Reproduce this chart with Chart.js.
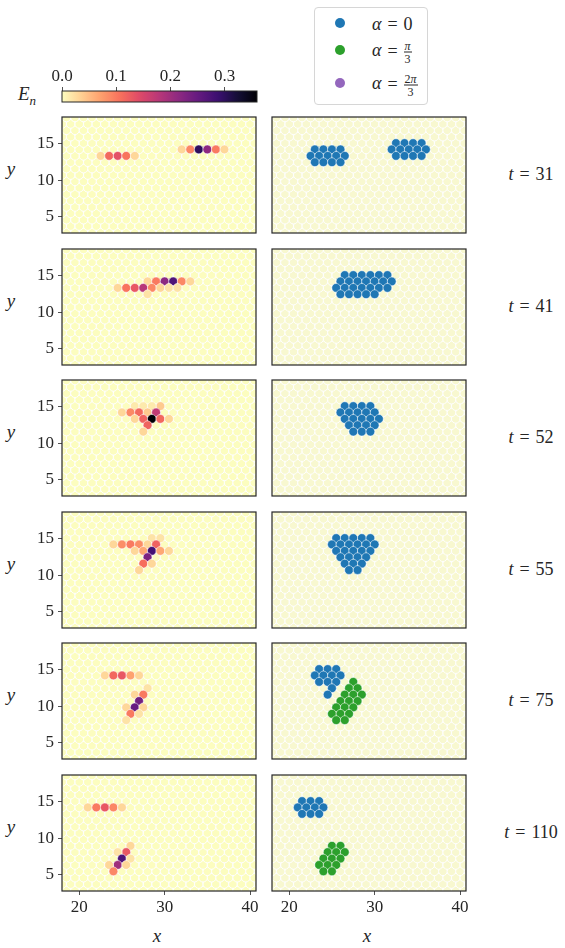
<!DOCTYPE html>
<html>
<head>
<meta charset="utf-8">
<script src="https://cdn.jsdelivr.net/npm/chart.js@4.4.0/dist/chart.umd.min.js"></script>
<style>
  body { margin: 0; width: 565px; height: 948px; position: relative; overflow: hidden; background: #fff;
         font-family: "Liberation Serif", "DejaVu Serif", serif; color: #262626; }
  canvas { position: absolute; }
  .lbl { position: absolute; font-size: 18px; white-space: nowrap; transform: translate(-50%, -50%); }
  .lbl i { font-style: italic; }
  .eq { margin: 0 6px; }
  #legend { position: absolute; left: 314px; top: 7px; width: 114px; height: 98px; border: 1px solid #d6d6d6;
            border-radius: 4px; background: #fff; box-sizing: border-box; }
  .leg-dot { position: absolute; width: 10px; height: 10px; border-radius: 50%; left: 20px; }
  .leg-txt { position: absolute; left: 57px; font-size: 18px; transform: translateY(-50%); white-space: nowrap; }
  .frac { display: inline-block; vertical-align: middle; text-align: center; font-size: 12px; line-height: 12px; }
  .frac span { display: block; }
  .frac .num { border-bottom: 1px solid #262626; padding: 0 1px; }
</style>
</head>
<body>
<div id="legend">
  <div class="leg-dot" style="top:10px;background:#1f77b4"></div>
  <div class="leg-txt" style="top:16px"><i>α</i><span class="eq">=</span>0</div>
  <div class="leg-dot" style="top:37px;background:#2ca02c"></div>
  <div class="leg-txt" style="top:44px"><i>α</i><span class="eq">=</span><span class="frac"><span class="num"><i>π</i></span><span>3</span></span></div>
  <div class="leg-dot" style="top:70px;background:#9467bd"></div>
  <div class="leg-txt" style="top:77px"><i>α</i><span class="eq">=</span><span class="frac"><span class="num">2<i>π</i></span><span>3</span></span></div>
</div>
<script>
// axis ranges and ticks
const xMin = 17.98, xMax = 40.7, yMin = 2.82, yMax = 18.55;
const xTicks = [20, 30, 40];
const yTicks = [5, 10, 15];
const cbarTicks = [0, 0.1, 0.2, 0.3];
const energyMax = 0.36;

// triangular lattice of sites (even rows sit on half-integer x)
const latticeRowY = [2.89, 3.76, 4.62, 5.49, 6.35, 7.22, 8.09, 8.95, 9.82, 10.68, 11.55,
  12.42, 13.28, 14.15, 15.01, 15.88, 16.75, 17.61, 18.48];
const latticeXInt = [18, 19, 20, 21, 22, 23, 24, 25, 26, 27, 28, 29, 30, 31, 32, 33, 34, 35, 36, 37, 38, 39, 40, 41];
const latticeXHalf = [17.5, 18.5, 19.5, 20.5, 21.5, 22.5, 23.5, 24.5, 25.5, 26.5, 27.5, 28.5, 29.5, 30.5,
  31.5, 32.5, 33.5, 34.5, 35.5, 36.5, 37.5, 38.5, 39.5, 40.5];

const times = [31, 41, 52, 55, 75, 110];

// energy per site: [x, row, E_n]
const energy31 = [[22.5,12,0.03],[23.5,12,0.115],[24.5,12,0.137],[25.5,12,0.105],[26.5,12,0.03],
  [32,13,0.03],[33,13,0.09],[34,13,0.30],[35,13,0.216],[36,13,0.1],[37,13,0.03]];
const energy41 = [[28,13,0.03],[29,13,0.1],[30,13,0.216],[31,13,0.27],[32,13,0.09],[33,13,0.03],
  [24.5,12,0.03],[25.5,12,0.105],[26.5,12,0.13],[27.5,12,0.18],[28.5,12,0.09],[29.5,12,0.03],
  [30.5,12,0.02],[31.5,12,0.02],[28,11,0.02]];
const energy52 = [[29.5,14,0.04],[26.5,14,0.015],[27.5,14,0.015],[28.5,14,0.015],
  [25,13,0.03],[26,13,0.09],[27,13,0.115],[28,13,0.04],[29,13,0.17],
  [26.5,12,0.03],[27.5,12,0.12],[28.5,12,0.36],[29.5,12,0.115],[30.5,12,0.03],
  [28,11,0.12],[27.5,10,0.03]];
const energy55 = [[28.5,14,0.02],[29.5,14,0.02],
  [24,13,0.03],[25,13,0.085],[26,13,0.1],[27,13,0.085],[28,13,0.03],[29,13,0.12],
  [26.5,12,0.03],[27.5,12,0.065],[28.5,12,0.28],[29.5,12,0.065],[30.5,12,0.03],
  [28,11,0.23],[27.5,10,0.11],[28.5,10,0.03],[27,9,0.03]];
const energy75 = [[23,13,0.03],[24,13,0.115],[25,13,0.13],[26,13,0.07],[27,13,0.03],
  [28,11,0.02],[26.5,10,0.03],[27.5,10,0.1],[27,9,0.24],
  [25.5,8,0.03],[26.5,8,0.25],[27.5,8,0.03],[26,7,0.1],[27,7,0.02],[25.5,6,0.02]];
const energy110 = [[21,13,0.03],[22,13,0.1],[23,13,0.13],[24,13,0.09],[25,13,0.03],
  [26,7,0.03],[25.5,6,0.13],[24.5,6,0.02],[25,5,0.27],[26,5,0.02],
  [24.5,4,0.2],[23.5,4,0.03],[25.5,4,0.03],[24,3,0.09]];
const energyByTime = [energy31, energy41, energy52, energy55, energy75, energy110];

// particle positions: [x, row]
const blue31 = [[23,13],[24,13],[25,13],[26,13],[22.5,12],[23.5,12],[24.5,12],[25.5,12],[26.5,12],
  [23,11],[24,11],[25,11],[26,11],
  [32.5,14],[33.5,14],[34.5,14],[35.5,14],[32,13],[33,13],[34,13],[35,13],[36,13],
  [32.5,12],[33.5,12],[34.5,12],[35.5,12]];
const blue41 = [[26.5,14],[27.5,14],[28.5,14],[29.5,14],[30.5,14],[31.5,14],
  [26,13],[27,13],[28,13],[29,13],[30,13],[31,13],[32,13],
  [25.5,12],[26.5,12],[27.5,12],[28.5,12],[29.5,12],[30.5,12],[31.5,12],
  [26,11],[27,11],[28,11],[29,11],[30,11]];
const blue52 = [[26.5,14],[27.5,14],[28.5,14],[29.5,14],
  [26,13],[27,13],[28,13],[29,13],[30,13],
  [26.5,12],[27.5,12],[28.5,12],[29.5,12],[30.5,12],
  [27,11],[28,11],[29,11],[30,11],
  [27.5,10],[28.5,10],[29.5,10]];
const blue55 = [[25.5,14],[26.5,14],[27.5,14],[28.5,14],[29.5,14],
  [25,13],[26,13],[27,13],[28,13],[29,13],[30,13],
  [25.5,12],[26.5,12],[27.5,12],[28.5,12],[29.5,12],
  [26,11],[27,11],[28,11],[29,11],
  [26.5,10],[27.5,10],[28.5,10],
  [27,9],[28,9]];
const blue75 = [[23.5,14],[24.5,14],[25.5,14],[23,13],[24,13],[25,13],[26,13],
  [23.5,12],[24.5,12],[25.5,12],[25,11],[24.5,10]];
const green75 = [[27.5,12],[27,11],[28,11],[26.5,10],[27.5,10],[28.5,10],
  [26,9],[27,9],[28,9],[25.5,8],[26.5,8],[27.5,8],[25,7],[26,7],[27,7],[25.5,6],[26.5,6]];
const blue110 = [[21.5,14],[22.5,14],[23.5,14],[21,13],[22,13],[23,13],[24,13],
  [21.5,12],[22.5,12],[23.5,12]];
const green110 = [[25,7],[26,7],[24.5,6],[25.5,6],[26.5,6],[24,5],[25,5],[26,5],
  [23.5,4],[24.5,4],[25.5,4],[24,3],[25,3]];
const blueByTime = [blue31, blue41, blue52, blue55, blue75, blue110];
const greenByTime = [[], [], [], [], green75, green110];

const alphaColors = ['#1f77b4', '#2ca02c', '#9467bd'];

// magma colormap, reversed for E_n
const magma = ['#000004','#140e36','#3b0f70','#641a80','#8c2981','#b73779','#de4968',
  '#f7705c','#fe9f6d','#fecf92','#fcfdbf'];
function hexRgb(h) { return [1, 3, 5].map((i) => parseInt(h.slice(i, i + 2), 16)); }
function energyColor(e) {
  const t = (1 - Math.min(e / energyMax, 1)) * 10;
  const i = Math.min(Math.floor(t), 9), f = t - i;
  const a = hexRgb(magma[i]), b = hexRgb(magma[i + 1]);
  const c = a.map((v, k) => Math.round(v + (b[k] - v) * f));
  return `rgb(${c[0]},${c[1]},${c[2]})`;
}

function latticePoints() {
  const pts = [];
  latticeRowY.forEach((y, r) => {
    (r % 2 === 0 ? latticeXHalf : latticeXInt).forEach((x) => pts.push({ x, y }));
  });
  return pts;
}
const toPoints = (list) => list.map((p) => ({ x: p[0], y: latticeRowY[p[1]] }));

// layout
const boxW = 194, boxH = 116;
const colLeft = [62, 272];
const rowTop = [117, 249, 380, 512, 643, 775];
const axisFont = { family: '"Liberation Serif", serif', size: 17 };
const inkColor = '#262626';

const framePlugin = {
  id: 'frame',
  beforeDatasetsDraw(chart) {
    const { ctx, chartArea: a } = chart;
    ctx.save();
    ctx.fillStyle = '#ffffff';
    ctx.fillRect(a.left, a.top, a.right - a.left, a.bottom - a.top);
    ctx.restore();
  },
  afterDraw(chart) {
    const { ctx, chartArea: a } = chart;
    ctx.save();
    ctx.strokeStyle = '#262626';
    ctx.lineWidth = 1.2;
    ctx.strokeRect(a.left, a.top, a.right - a.left, a.bottom - a.top);
    ctx.restore();
  },
};

function noPad(s) { s.paddingTop = 0; s.paddingBottom = 0; s.paddingLeft = 0; s.paddingRight = 0; }

function addCanvas(left, top, w, h) {
  const c = document.createElement('canvas');
  c.width = w; c.height = h;
  c.style.left = left + 'px'; c.style.top = top + 'px';
  c.style.width = w + 'px'; c.style.height = h + 'px';
  document.body.appendChild(c);
  return c;
}

function addLabel(html, x, y, size) {
  const d = document.createElement('div');
  d.className = 'lbl';
  d.innerHTML = html;
  d.style.left = x + 'px'; d.style.top = y + 'px';
  if (size) d.style.fontSize = size + 'px';
  document.body.appendChild(d);
}

function makePanel(row, col) {
  const showY = col === 0, showX = row === rowTop.length - 1;
  const yAxisW = showY ? 44 : 0;
  const xAxisH = showX ? 30 : 0;
  const padL = showY ? 0 : 2;
  const w = padL + yAxisW + boxW + 3;
  const h = 2 + boxH + (showX ? xAxisH : 2);
  const canvas = addCanvas(colLeft[col] - yAxisW - padL, rowTop[row] - 2, w, h);

  const datasets = [{
    data: latticePoints(),
    order: 5,
    pointRadius: 4.3,
    pointBackgroundColor: col === 0 ? energyColor(0) : '#f8f8d0',
    pointBorderColor: '#ffffff',
    pointBorderWidth: 1,
    clip: 0,
  }];
  if (col === 0) {
    const e = energyByTime[row];
    datasets.push({
      data: toPoints(e),
      order: 1,
      pointRadius: 4.4,
      pointBackgroundColor: e.map((p) => energyColor(p[2])),
      pointBorderColor: '#ffffff',
      pointBorderWidth: 0.5,
      clip: 0,
    });
  } else {
    [blueByTime[row], greenByTime[row]].forEach((list, k) => {
      datasets.push({
        data: toPoints(list),
        order: 1,
        pointRadius: 4.4,
        pointBackgroundColor: alphaColors[k],
        pointBorderColor: '#ffffff',
        pointBorderWidth: 0.5,
        clip: 0,
      });
    });
  }

  new Chart(canvas, {
    type: 'scatter',
    data: { datasets },
    options: {
      responsive: false,
      animation: false,
      events: [],
      layout: { autoPadding: false, padding: { top: 2, right: 3, left: padL, bottom: showX ? 0 : 2 } },
      plugins: { legend: { display: false }, tooltip: { enabled: false } },
      scales: {
        x: {
          type: 'linear', min: xMin, max: xMax, display: showX,
          afterBuildTicks: (s) => { s.ticks = xTicks.map((v) => ({ value: v })); },
          afterFit: (s) => { s.height = xAxisH; noPad(s); },
          grid: { drawOnChartArea: false, drawTicks: true, tickLength: 4, color: '#262626', lineWidth: 0.8 },
          border: { display: false },
          ticks: { font: axisFont, color: inkColor, padding: 2, maxRotation: 0 },
        },
        y: {
          type: 'linear', min: yMin, max: yMax, display: showY,
          afterBuildTicks: (s) => { s.ticks = yTicks.map((v) => ({ value: v })); },
          afterFit: (s) => { s.width = yAxisW; noPad(s); },
          grid: { drawOnChartArea: false, drawTicks: true, tickLength: 4, color: '#262626', lineWidth: 0.8 },
          border: { display: false },
          ticks: { font: axisFont, color: inkColor, padding: 4 },
        },
      },
    },
    plugins: [framePlugin],
  });
}

rowTop.forEach((top, row) => {
  makePanel(row, 0);
  makePanel(row, 1);
  addLabel('<i>y</i>', 11, top + 52, 19);
  addLabel(`<i>t</i><span class="eq">=</span>${times[row]}`, 531, top + 57);
});
addLabel('<i>x</i>', colLeft[0] + boxW / 2 - 2, 936, 19);
addLabel('<i>x</i>', colLeft[1] + boxW / 2 - 2, 936, 19);
addLabel('<i>E</i><sub style="font-size:13px"><i>n</i></sub>', 27, 96, 19);

// colorbar
const cbarCanvas = addCanvas(50, 60, 220, 45);
const gradientPlugin = {
  id: 'gradient',
  beforeDatasetsDraw(chart) {
    const { ctx, chartArea: a } = chart;
    const g = ctx.createLinearGradient(a.left, 0, a.right, 0);
    for (let i = 0; i <= 36; i++) g.addColorStop(i / 36, energyColor(energyMax * i / 36));
    ctx.save();
    ctx.fillStyle = g;
    ctx.fillRect(a.left, a.top, a.right - a.left, a.bottom - a.top);
    ctx.strokeStyle = '#262626';
    ctx.lineWidth = 1;
    ctx.strokeRect(a.left, a.top, a.right - a.left, a.bottom - a.top);
    ctx.restore();
  },
};
new Chart(cbarCanvas, {
  type: 'scatter',
  data: { datasets: [{ data: [] }] },
  options: {
    responsive: false,
    animation: false,
    events: [],
    layout: { autoPadding: false, padding: { top: 0, right: 13, left: 12, bottom: 3 } },
    plugins: { legend: { display: false }, tooltip: { enabled: false } },
    scales: {
      x: {
        type: 'linear', position: 'top', min: 0, max: energyMax,
        afterBuildTicks: (s) => { s.ticks = cbarTicks.map((v) => ({ value: v })); },
        afterFit: (s) => { s.height = 31; noPad(s); },
        grid: { drawOnChartArea: false, drawTicks: true, tickLength: 4, color: '#262626', lineWidth: 0.8 },
        border: { display: false },
        ticks: { font: axisFont, color: inkColor, padding: 0, maxRotation: 0, callback: (v) => v.toFixed(1) },
      },
      y: { display: false, min: 0, max: 1 },
    },
  },
  plugins: [gradientPlugin],
});
</script>
</body>
</html>
